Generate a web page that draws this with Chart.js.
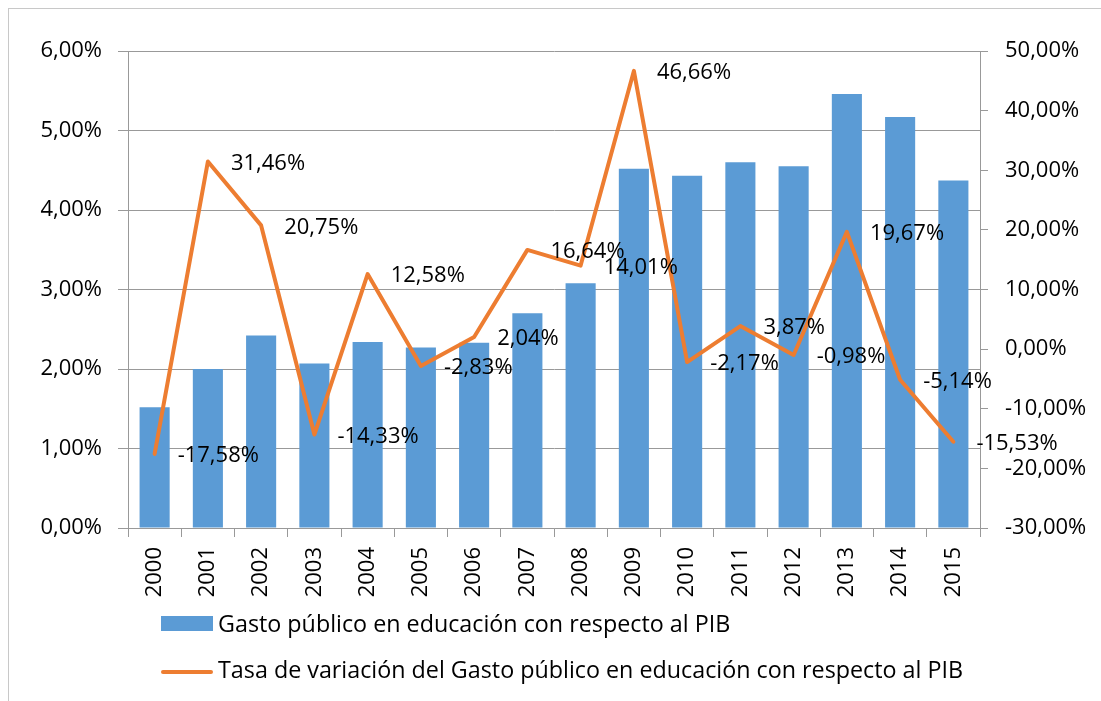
<!DOCTYPE html>
<html>
<head>
<meta charset="utf-8">
<script src="https://cdn.jsdelivr.net/npm/chart.js@4.4.1/dist/chart.umd.min.js"></script>
<style>
    body { margin: 0; background: #fff; }
    #wrap { position: relative; width: 1101px; height: 701px; overflow: hidden; }
    #frame { position: absolute; left: 8px; top: 8px; right: -10px; bottom: -10px;
             border-left: 1px solid #c8c8c8; border-top: 1px solid #c8c8c8; }
    canvas { position: absolute; left: 0; top: 0; }
    .leg { position: absolute; left: 161px; font-family: 'Open Sans', sans-serif; font-size: 23.3px;
           color: #000; white-space: nowrap; }
    .leg .mark { position: absolute; left: 0; width: 52px; }
    .leg span.txt { position: absolute; left: 57px; top: 0; line-height: 1; }
</style>
</head>
<body>
<div id="wrap">
    <div id="frame"></div>
    <canvas id="chart" width="1101" height="701"></canvas>
    <div class="leg" style="top:612px">
        <div class="mark" style="top:4px;height:15px;background:#5b9bd5"></div>
        <span class="txt" id="legBar"></span>
    </div>
    <div class="leg" style="top:658px">
        <div class="mark" style="top:12px;height:4px;background:#ed7d31;border-radius:2px"></div>
        <span class="txt" id="legLine"></span>
    </div>
</div>

<script>
    // years on the category axis
    const years = ['2000', '2001', '2002', '2003', '2004', '2005', '2006', '2007',
                   '2008', '2009', '2010', '2011', '2012', '2013', '2014', '2015'];

    // public spending on education, % of GDP (left axis)
    const gasto = [1.52, 2.00, 2.42, 2.07, 2.34, 2.27, 2.33, 2.70,
                   3.08, 4.52, 4.43, 4.60, 4.55, 5.46, 5.17, 4.37];

    // year-on-year change of that spending, % (right axis)
    const tasa = [-17.58, 31.46, 20.75, -14.33, 12.58, -2.83, 2.04, 16.64,
                  14.01, 46.66, -2.17, 3.87, -0.98, 19.67, -5.14, -15.53];

    const nombreBarras = 'Gasto público en educación con respecto al PIB';
    const nombreLinea = 'Tasa de variación del Gasto público en educación con respecto al PIB';

    document.getElementById('legBar').textContent = nombreBarras;
    document.getElementById('legLine').textContent = nombreLinea;

    function pct(v) {
        return v.toFixed(2).replace('.', ',') + '%';
    }

    Chart.defaults.font.family = "'Open Sans', sans-serif";
    Chart.defaults.font.size = 22;
    Chart.defaults.color = '#000';

    const gridColor = '#999';

    // value labels to the right of each point of the line
    const lineLabels = {
        id: 'lineLabels',
        afterDatasetsDraw(chart) {
            const meta = chart.getDatasetMeta(1);
            const ctx = chart.ctx;
            ctx.save();
            ctx.font = "22px 'Open Sans', sans-serif";
            ctx.fillStyle = '#000';
            ctx.textAlign = 'left';
            ctx.textBaseline = 'middle';
            meta.data.forEach((pt, i) => {
                ctx.fillText(pct(tasa[i]), pt.x + 23, pt.y + 2);
            });
            ctx.restore();
        }
    };

    new Chart(document.getElementById('chart'), {
        data: {
            labels: years,
            datasets: [
                {
                    type: 'bar',
                    label: nombreBarras,
                    data: gasto,
                    backgroundColor: '#5b9bd5',
                    borderWidth: 0,
                    categoryPercentage: 1,
                    barPercentage: 0.565,
                    yAxisID: 'y',
                    order: 1
                },
                {
                    type: 'line',
                    label: nombreLinea,
                    data: tasa,
                    borderColor: '#ed7d31',
                    borderWidth: 4,
                    pointRadius: 0,
                    tension: 0,
                    borderJoinStyle: 'round',
                    borderCapStyle: 'round',
                    yAxisID: 'y1',
                    order: 0
                }
            ]
        },
        options: {
            responsive: false,
            animation: false,
            devicePixelRatio: 1,
            layout: { padding: { top: 51, left: 0, right: 0, bottom: 0 } },
            plugins: {
                legend: { display: false },
                tooltip: { enabled: false }
            },
            scales: {
                x: {
                    offset: true,
                    grid: { offset: true, drawOnChartArea: false, color: gridColor, tickLength: 9 },
                    border: { color: gridColor },
                    ticks: { minRotation: 90, maxRotation: 90, padding: 10, autoSkip: false },
                    afterFit(s) { s.height = 173; }
                },
                y: {
                    position: 'left',
                    min: 0,
                    max: 6,
                    grid: { color: gridColor, tickLength: 10 },
                    border: { color: gridColor },
                    ticks: { stepSize: 1, padding: 16, callback: v => pct(v) },
                    afterFit(s) { s.width = 128; }
                },
                y1: {
                    position: 'right',
                    min: -30,
                    max: 50,
                    grid: { drawOnChartArea: false, color: gridColor, tickLength: 8 },
                    border: { color: gridColor },
                    ticks: { stepSize: 10, padding: 17, callback: v => pct(v) },
                    afterFit(s) { s.width = 121; }
                }
            }
        },
        plugins: [lineLabels]
    });
</script>
</body>
</html>
